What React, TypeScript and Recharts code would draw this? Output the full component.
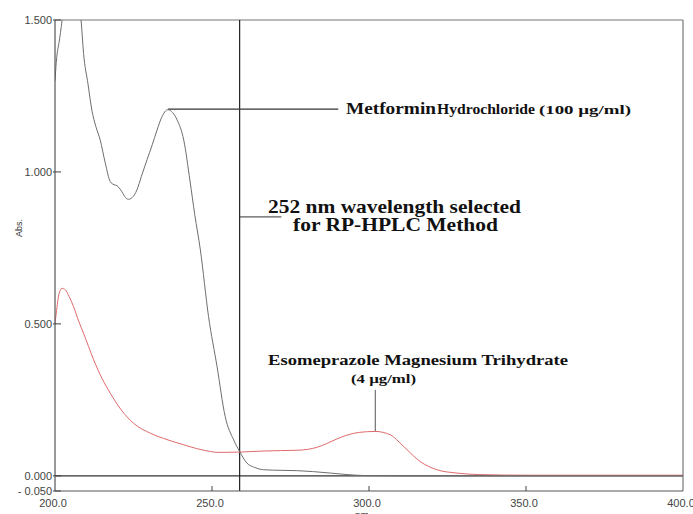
import React from "react";
import { LineChart, Line, XAxis, YAxis, ReferenceLine, Customized } from "recharts";

// ---- Data ----
const metforminNm = [
  200, 200.4, 201.5, 202.5, 203.5, 205, 206.5, 207.5, 208.3, 209.1, 210.5, 211.8, 213, 214.4, 216, 217.6,
  218.8, 219.7, 221.3, 222.5, 223.4, 224.5, 226.1, 227.5, 229.3, 231, 232.5, 234, 235.9, 237.5, 238.9, 241,
  243, 244.5, 246.3, 248.9, 251.6, 254.2, 256.9, 258.8, 261.1, 263.5, 266.4, 272, 277, 282, 287.7, 293,
  298.3, 310, 350, 400,
];
const metforminAbs = [
  1.3, 1.36, 1.44, 1.52, 1.62, 1.72, 1.68, 1.58, 1.5, 1.39, 1.29, 1.2, 1.15, 1.105, 1.03, 0.968,
  0.958, 0.955, 0.935, 0.915, 0.91, 0.915, 0.941, 0.985, 1.04, 1.09, 1.138, 1.18, 1.205, 1.195, 1.171, 1.105,
  0.97, 0.86, 0.743, 0.524, 0.36, 0.195, 0.118, 0.08, 0.042, 0.028, 0.02, 0.018, 0.017, 0.014, 0.009, 0.004,
  0.001, 0, 0, 0,
];

const esomeprazoleNm = [
  200, 200.4, 201.3, 202.2, 203.3, 204.5, 205.9, 207.5, 209.1, 210.7, 212.3, 215, 217.6, 221, 225, 230.4,
  236, 241, 245, 249.5, 252, 258.8, 265, 271.8, 277, 280.5, 283.5, 286.5, 289.5, 293, 297, 302, 306.8, 309.5,
  312.1, 316.3, 321.6, 328, 335, 350, 400,
];
const esomeprazoleAbs = [
  0.5, 0.535, 0.6, 0.617, 0.612, 0.59, 0.557, 0.51, 0.469, 0.425, 0.382, 0.32, 0.272, 0.218, 0.173, 0.14,
  0.118, 0.102, 0.09, 0.08, 0.077, 0.078, 0.081, 0.083, 0.084, 0.087, 0.094, 0.106, 0.12, 0.134, 0.143, 0.146,
  0.135, 0.112, 0.086, 0.047, 0.02, 0.009, 0.004, 0.002, 0.002,
];

const xTicks = [200, 250, 300, 350, 400];
const xInnerTicks = [250, 300, 350];
const yTicks = [-0.05, 0, 0.5, 1.0, 1.5];

const selectedLineNm = 258.8;
const metforminPeak = { nm: 236, abs: 1.207, labelEndNm: 290.2 };
const selectedLeader = { abs: 0.852, endNm: 272.1 };
const esoPeak = { nm: 302, abs: 0.145, labelAbs: 0.283 };

const metData = metforminNm.map((nm, i) => ({ nm, abs: metforminAbs[i] }));
const esoData = esomeprazoleNm.map((nm, i) => ({ nm, abs: esomeprazoleAbs[i] }));

const SANS = "'Liberation Sans', Arial, sans-serif";
const SERIF = "'Liberation Serif', 'Times New Roman', serif";

const XTick = (props: any) => {
  const { x, y, payload } = props;
  const inner = xInnerTicks.includes(payload.value);
  return (
    <g>
      {inner && <line x1={x} x2={x} y1={y - 8} y2={y - 13} stroke="#444" strokeWidth={1} />}
      <text x={x - 2} y={y} dy="0.71em" textAnchor="middle" fontSize={11} fill="#444" fontFamily={SANS}>
        {Number(payload.value).toFixed(1)}
      </text>
    </g>
  );
};

const TopTick = (props: any) => {
  const { x, y } = props;
  return <line x1={x} x2={x} y1={y} y2={y + 5} stroke="#555" strokeWidth={1} />;
};

const YTick = (props: any) => {
  const { x, y, payload } = props;
  const v = Number(payload.value);
  const label = v < 0 ? "- " + Math.abs(v).toFixed(3) : v.toFixed(3);
  return (
    <g>
      <line x1={x + 1} x2={x + 9} y1={y} y2={y} stroke="#444" strokeWidth={1} />
      <text x={x} y={y} dy="0.355em" textAnchor="end" fontSize={11} fill="#444" fontFamily={SANS}>
        {label}
      </text>
    </g>
  );
};

const AbsLabel = (props: any) => {
  const vb = props.viewBox || { x: 0, y: 0 };
  const cx = vb.x + 22;
  const cy = vb.y + 208;
  return (
    <text x={cx} y={cy} transform={`rotate(-90 ${cx} ${cy})`} textAnchor="middle" fontSize={9} fill="#333" fontFamily={SANS}>
      Abs.
    </text>
  );
};

const NmLabel = (props: any) => {
  const vb = props.viewBox || { x: 0, y: 0, width: 0, height: 0 };
  return (
    <text x={vb.x + vb.width / 2 - 7} y={vb.y + vb.height + 5} textAnchor="middle" fontSize={10} fill="#444" fontFamily={SANS}>
      nm
    </text>
  );
};

const Annotations = () => (
  <g fontFamily={SERIF} fontWeight="bold" fill="#111">
    <text x={346} y={114} fontSize={16} textLength={90} lengthAdjust="spacingAndGlyphs">Metformin</text>
    <text x={437} y={114} fontSize={14} textLength={98} lengthAdjust="spacingAndGlyphs">Hydrochloride</text>
    <text x={539} y={114} fontSize={12} textLength={92} lengthAdjust="spacingAndGlyphs">(100 µg/ml)</text>
    <text x={268} y={213} fontSize={19} textLength={253} lengthAdjust="spacingAndGlyphs">252 nm wavelength selected</text>
    <text x={293} y={231} fontSize={18} textLength={205} lengthAdjust="spacingAndGlyphs">for RP-HPLC Method</text>
    <text x={268} y={365} fontSize={15} textLength={300} lengthAdjust="spacingAndGlyphs">Esomeprazole Magnesium Trihydrate</text>
    <text x={351} y={383} fontSize={12} textLength={65} lengthAdjust="spacingAndGlyphs">(4 µg/ml)</text>
  </g>
);

export default function App() {
  return (
    <div style={{ position: "absolute", left: 0, top: 0, width: 693, height: 514, background: "#fff" }}>
      <LineChart width={693} height={514} margin={{ top: 20, right: 10, bottom: 0, left: 0 }}>
        <XAxis
          dataKey="nm"
          type="number"
          domain={[200, 400]}
          ticks={xTicks}
          allowDataOverflow
          height={23}
          axisLine={{ stroke: "#555", strokeWidth: 1.2 }}
          tickLine={false}
          tick={<XTick />}
          interval={0}
          label={{ value: "nm", content: <NmLabel /> }}
        />
        <XAxis
          xAxisId="top"
          orientation="top"
          type="number"
          domain={[200, 400]}
          ticks={xInnerTicks}
          height={0}
          axisLine={false}
          tickLine={false}
          tickSize={0}
          tickMargin={0}
          tick={<TopTick />}
          interval={0}
        />
        <YAxis
          type="number"
          domain={[-0.05, 1.5]}
          ticks={yTicks}
          allowDataOverflow
          width={55}
          axisLine={{ stroke: "#555", strokeWidth: 1.2 }}
          tickLine={false}
          tickSize={0}
          tickMargin={3}
          tick={<YTick />}
          interval={0}
          label={{ value: "Abs.", content: <AbsLabel /> }}
        />
        <ReferenceLine y={1.5} stroke="#777" strokeWidth={1.2} />
        <ReferenceLine x={400} stroke="#777" strokeWidth={1.2} />
        <ReferenceLine y={0} stroke="#333" strokeWidth={1.2} />
        <ReferenceLine x={selectedLineNm} stroke="#222" strokeWidth={1.2} />
        <ReferenceLine
          segment={[
            { x: metforminPeak.nm, y: metforminPeak.abs },
            { x: metforminPeak.labelEndNm, y: metforminPeak.abs },
          ]}
          stroke="#333"
          strokeWidth={1.2}
        />
        <ReferenceLine
          segment={[
            { x: selectedLineNm, y: selectedLeader.abs },
            { x: selectedLeader.endNm, y: selectedLeader.abs },
          ]}
          stroke="#333"
          strokeWidth={1}
        />
        <ReferenceLine
          segment={[
            { x: esoPeak.nm, y: esoPeak.abs },
            { x: esoPeak.nm, y: esoPeak.labelAbs },
          ]}
          stroke="#555"
          strokeWidth={1}
        />
        <Line
          data={esoData}
          dataKey="abs"
          type="monotone"
          dot={false}
          activeDot={false}
          stroke="#e06a6a"
          strokeWidth={1}
          isAnimationActive={false}
        />
        <Line
          data={metData}
          dataKey="abs"
          type="monotone"
          dot={false}
          activeDot={false}
          stroke="#6e6e6e"
          strokeWidth={1}
          isAnimationActive={false}
        />
        <Customized component={Annotations} />
      </LineChart>
    </div>
  );
}
